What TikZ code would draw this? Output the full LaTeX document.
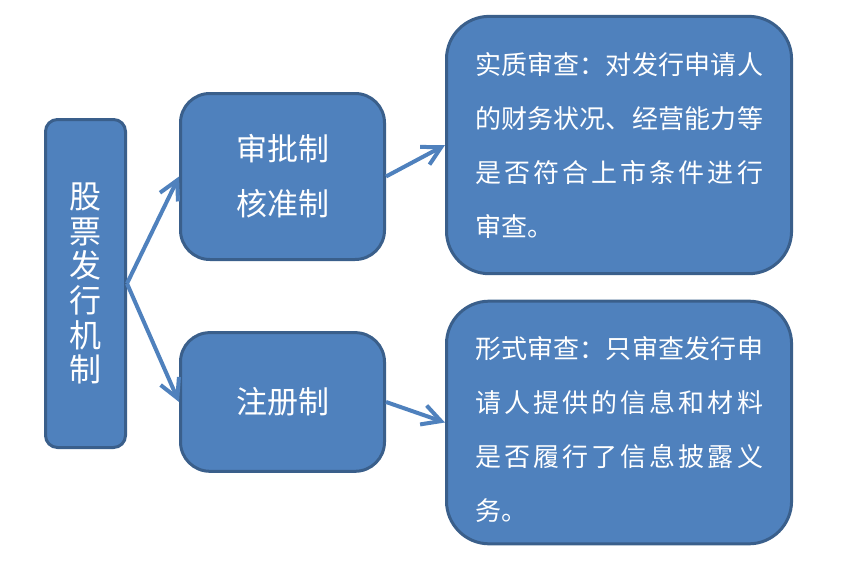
\documentclass[tikz,border=0pt]{standalone}
\usepackage{fontspec}
\newfontfamily\cjk{Noto Sans CJK SC}
\XeTeXlinebreaklocale "zh"
\XeTeXlinebreakskip = 0pt plus 5pt
\usetikzlibrary{arrows.meta, positioning}
\definecolor{boxfill}{HTML}{4F81BD}
\definecolor{boxline}{HTML}{3A5F8B}

\begin{document}
\begin{tikzpicture} [x = 0.75pt, y = -0.75pt, on grid,
        box/.style = {draw = boxline, fill = boxfill, line width = 2.25pt, text = white},
        textbox/.style = {box, rounded corners = 32pt, text width = 216pt, inner xsep = 21.4pt,
            minimum width = 258.75pt, align = justify,
            font = \cjk\fontsize{19.5pt}{40.5pt}\selectfont},
        arrow/.style = {-{Straight Barb[length = 14pt, width = 15pt]}, color = boxfill, line width = 3pt}]
        \useasboundingbox (0,0) rectangle (847,564);

        \node (stock)
        [box, rounded corners = 9pt, minimum width = 60pt, minimum height = 246pt, align = center,
            font = \cjk\fontsize{24pt}{26pt}\selectfont] at (85.5,283.5)
        {股\\票\\发\\行\\机\\制};
        \node (approve)
        [box, rounded corners = 22pt, minimum width = 153pt, minimum height = 124.5pt, align = center,
            font = \cjk\fontsize{23.25pt}{41.25pt}\selectfont, above right = 80.25pt and 147.75pt of stock]
        {审批制\\核准制};
        \node (register)
        [box, rounded corners = 22pt, minimum width = 153pt, minimum height = 104pt,
            font = \cjk\fontsize{23.25pt}{41.25pt}\selectfont, below = 169.1pt of approve]
        {注册制};
        \node (review)
        [textbox, minimum height = 193pt, above right = 23.6pt and 252.4pt of approve]
        {实质审查：对发行申请人\linebreak 的财务状况、经营能力等\linebreak 是否符合上市条件进行\linebreak 审查。};
        \node (formal)
        [textbox, minimum height = 182pt, below = 208.1pt of review]
        {\rule{0pt}{27.5pt}形式审查：只审查发行申\linebreak 请人提供的信息和材料\linebreak 是否履行了信息披露义\linebreak 务。};

        \path [arrow]
        (stock.east) edge (approve.west)
        (stock.east) edge (register.west)
        (approve.east) edge (review.west)
        (register.east) edge (formal.west)
        ;
    \end{tikzpicture}
\end{document}
